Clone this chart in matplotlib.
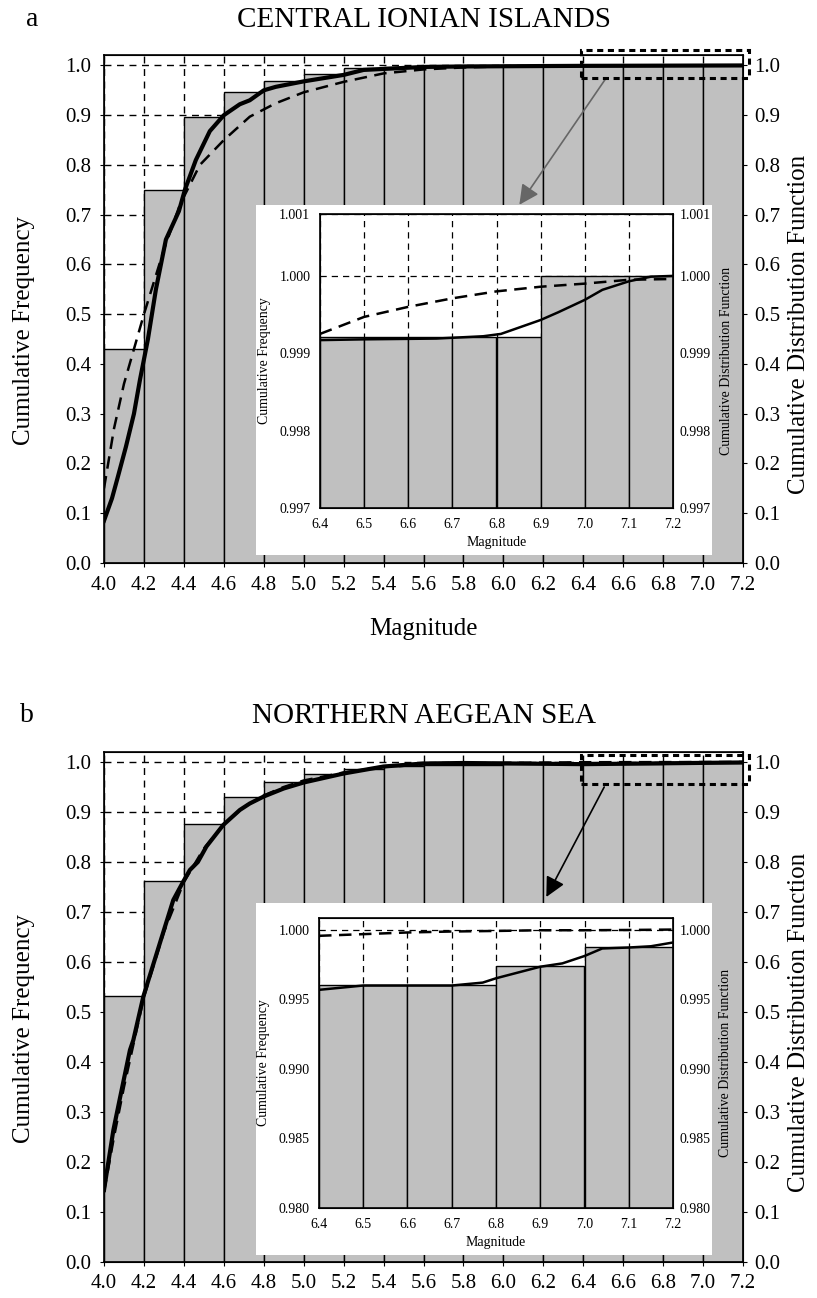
import numpy as np
import matplotlib
matplotlib.use("Agg")
import matplotlib.pyplot as plt
from matplotlib import patches

plt.rcParams['font.family'] = ['Liberation Serif', 'DejaVu Serif']

# ==== Data: bins ====
BIN_EDGES = [4.0, 4.2, 4.4, 4.6, 4.8, 5.0, 5.2, 5.4, 5.6, 5.8, 6.0, 6.2, 6.4, 6.6, 6.8, 7.0]
ZOOM_EDGES = [6.4, 6.5, 6.6, 6.7, 6.8, 6.9, 7.0, 7.1]
MAIN_XTICKS = [4.0, 4.2, 4.4, 4.6, 4.8, 5.0, 5.2, 5.4, 5.6, 5.8, 6.0, 6.2, 6.4, 6.6, 6.8, 7.0, 7.2]
MAIN_YTICKS = [0.0, 0.1, 0.2, 0.3, 0.4, 0.5, 0.6, 0.7, 0.8, 0.9, 1.0]
ZOOM_XTICKS = [6.4, 6.5, 6.6, 6.7, 6.8, 6.9, 7.0, 7.1, 7.2]

# ==== Data: (a) Central Ionian Islands ====
CII_FREQ = [0.43, 0.75, 0.896, 0.947, 0.969, 0.983, 0.994, 0.9976,
            0.998, 0.9985, 0.999, 0.9992, 0.9992, 0.9992, 1.0, 1.0]
CII_OBS_M = [4.00, 4.04, 4.07, 4.11, 4.15, 4.18, 4.22, 4.26, 4.31, 4.375, 4.405, 4.46,
             4.53, 4.60, 4.68, 4.73, 4.80, 4.86, 5.00, 5.20, 5.30, 5.60, 5.80, 6.40, 7.20]
CII_OBS_F = [0.085, 0.13, 0.174, 0.234, 0.30, 0.368, 0.45, 0.55, 0.65, 0.707, 0.75, 0.81,
             0.868, 0.90, 0.922, 0.930, 0.950, 0.957, 0.968, 0.981, 0.991, 0.997, 0.998, 0.9992, 1.0]
CII_CDF_M = [4.00, 4.05, 4.10, 4.15, 4.20, 4.30, 4.38, 4.48, 4.60, 4.73, 4.86, 5.00,
             5.20, 5.40, 5.60, 5.80, 6.00, 6.40, 7.20]
CII_CDF_F = [0.15, 0.27, 0.36, 0.43, 0.50, 0.63, 0.72, 0.80, 0.85, 0.897, 0.924, 0.946,
             0.967, 0.984, 0.992, 0.996, 0.998, 0.9993, 1.0]
CII_ZOOM_FREQ = [0.99921, 0.99921, 0.99921, 0.99921, 0.99921, 1.0, 1.0, 1.0]
CII_ZOOM_OBS_M = [6.40, 6.50, 6.664, 6.77, 6.81, 6.845, 6.90, 6.94, 7.00, 7.04, 7.10, 7.15, 7.20]
CII_ZOOM_OBS_F = [0.99917, 0.99918, 0.99919, 0.99922, 0.99925, 0.99932, 0.99943, 0.99953,
                  0.99969, 0.99982, 0.99993, 0.99999, 1.0]
CII_ZOOM_CDF_M = [6.4, 6.5, 6.6, 6.7, 6.8, 6.9, 7.0, 7.1, 7.2]
CII_ZOOM_CDF_F = [0.99925, 0.99947, 0.9996, 0.99971, 0.9998, 0.99986, 0.9999, 0.99995, 0.99996]

# ==== Data: (b) Northern Aegean Sea ====
NAS_FREQ = [0.532, 0.763, 0.876, 0.931, 0.961, 0.976, 0.987, 0.993,
            0.994, 0.995, 0.9955, 0.996, 0.996, 0.996, 0.9974, 0.9988]
NAS_OBS_M = [4.00, 4.047, 4.08, 4.13, 4.147, 4.197, 4.28, 4.347, 4.397, 4.43, 4.47, 4.513,
             4.597, 4.68, 4.73, 4.80, 4.90, 5.00, 5.20, 5.40, 5.60, 5.80, 6.40, 7.20]
NAS_OBS_F = [0.144, 0.264, 0.328, 0.424, 0.444, 0.531, 0.638, 0.724, 0.761, 0.784, 0.80, 0.831,
             0.874, 0.904, 0.917, 0.931, 0.947, 0.959, 0.977, 0.991, 0.997, 0.998, 0.9957, 0.9991]
NAS_CDF_M = [4.00, 4.05, 4.10, 4.15, 4.20, 4.30, 4.40, 4.50, 4.60, 4.70, 4.80, 4.90,
             5.00, 5.20, 5.40, 5.60, 5.80, 6.00, 6.40, 7.20]
NAS_CDF_F = [0.14, 0.25, 0.35, 0.44, 0.53, 0.66, 0.76, 0.827, 0.875, 0.91, 0.933, 0.95,
             0.963, 0.979, 0.99, 0.995, 0.997, 0.998, 0.99955, 1.0]
NAS_ZOOM_FREQ = [0.99602, 0.99602, 0.99602, 0.99602, 0.9974, 0.9974, 0.99876, 0.99876]
NAS_ZOOM_OBS_M = [6.40, 6.50, 6.70, 6.77, 6.80, 6.90, 6.95, 7.00, 7.04, 7.10, 7.15, 7.20]
NAS_ZOOM_OBS_F = [0.99567, 0.99598, 0.99598, 0.99619, 0.9965, 0.99733, 0.99757, 0.9981,
                  0.99864, 0.99871, 0.9988, 0.99907]
NAS_ZOOM_CDF_M = [6.4, 6.5, 6.6, 6.7, 6.8, 6.9, 7.0, 7.1, 7.2]
NAS_ZOOM_CDF_F = [0.99955, 0.99967, 0.99979, 0.99986, 0.9999, 0.99995, 0.99995, 0.99997, 1.0]

GRAY = '#c0c0c0'
DASH = (0, (5, 3))
W, H = 817, 1298

fig = plt.figure(figsize=(W / 100, H / 100), dpi=100)


def px_rect(x0, y0, x1, y1):
    """pixel box (top-left origin) -> figure fraction rect"""
    return [x0 / W, 1 - y1 / H, (x1 - x0) / W, (y1 - y0) / H]


# ==== Function: draw_main ====
def draw_main(rect, ytop, freq, obs_m, obs_f, cdf_m, cdf_f, box, arrow_from, arrow_to,
              arrow_color, show_xlabel):
    ax = fig.add_axes(rect)
    ax.set_axisbelow(True)
    ax.grid(True, color='black', linestyle=(0, (5, 4)), linewidth=1.0)
    ax.bar(BIN_EDGES, freq, width=0.2, align='edge', color=GRAY,
           edgecolor='black', linewidth=1.0, zorder=2)
    ax.plot(cdf_m, cdf_f, color='black', lw=1.8, linestyle=DASH, zorder=3)
    ax.plot(obs_m, obs_f, color='black', lw=3.0, zorder=4)
    ax.set_xlim(4.0, 7.2)
    ax.set_ylim(0, ytop)
    ax.set_xticks(MAIN_XTICKS)
    ax.set_xticklabels([f"{v:.1f}" for v in MAIN_XTICKS])
    ax.set_yticks(MAIN_YTICKS)
    ax.set_yticklabels([f"{v:.1f}" for v in MAIN_YTICKS])
    ax.tick_params(labelsize=15, length=3, pad=6)
    ax.set_ylabel("Cumulative Frequency", fontsize=18)
    ax.yaxis.set_label_coords(-0.108, 0.457)
    if show_xlabel:
        ax.set_xlabel("Magnitude", fontsize=18, labelpad=17)
    for s in ax.spines.values():
        s.set_linewidth(1.2)

    ax2 = ax.twinx()
    ax2.set_ylim(0, ytop)
    ax2.set_yticks(MAIN_YTICKS)
    ax2.set_yticklabels([f"{v:.1f}" for v in MAIN_YTICKS])
    ax2.tick_params(labelsize=15, length=3, pad=5)
    ax2.set_ylabel("Cumulative Distribution Function", fontsize=18)
    ax2.yaxis.set_label_coords(1.071, 0.469)

    # zoom window + arrow
    x0, y0, x1, y1 = box
    ax.add_patch(patches.Rectangle((x0, y0), x1 - x0, y1 - y0, fill=False,
                                   edgecolor='black', lw=2.2, linestyle=(0, (2, 1.5)),
                                   clip_on=False, zorder=6))
    ax.annotate("", xy=arrow_to, xytext=arrow_from,
                arrowprops=dict(arrowstyle='-|>', color=arrow_color, lw=1.2,
                                mutation_scale=30, shrinkA=0, shrinkB=0))
    return ax


# ==== Function: draw_inset ====
def draw_inset(box_px, ax_px, ylim, yticks, ylabels, freq, obs_m, obs_f, cdf_m, cdf_f):
    fig.add_artist(patches.Rectangle((box_px[0] / W, 1 - box_px[3] / H),
                                     (box_px[2] - box_px[0]) / W, (box_px[3] - box_px[1]) / H,
                                     transform=fig.transFigure, facecolor='white',
                                     edgecolor='none', zorder=5))
    ax = fig.add_axes(px_rect(*ax_px))
    ax.set_zorder(6)
    ax.set_axisbelow(True)
    ax.grid(True, color='black', linestyle=(0, (5, 4)), linewidth=0.9)
    ax.bar(ZOOM_EDGES, freq, width=0.1, align='edge', color=GRAY,
           edgecolor='black', linewidth=1.0, zorder=2)
    ax.plot(cdf_m, cdf_f, color='black', lw=1.8, linestyle=DASH, zorder=3)
    ax.plot(obs_m, obs_f, color='black', lw=1.8, zorder=4)
    ax.set_xlim(6.4, 7.2)
    ax.set_ylim(*ylim)
    ax.set_xticks(ZOOM_XTICKS)
    ax.set_xticklabels([f"{v:.1f}" for v in ZOOM_XTICKS])
    ax.set_yticks(yticks)
    ax.set_yticklabels(ylabels)
    ax.tick_params(labelsize=10, length=0, pad=7)
    ax.set_ylabel("Cumulative Frequency", fontsize=10, labelpad=6)
    ax.set_xlabel("Magnitude", fontsize=10, labelpad=4)
    for s in ax.spines.values():
        s.set_linewidth(1.2)

    ax2 = ax.twinx()
    ax2.set_zorder(7)
    ax2.set_ylim(*ylim)
    ax2.set_yticks(yticks)
    ax2.set_yticklabels(ylabels)
    ax2.tick_params(labelsize=10, length=0, pad=5)
    ax2.set_ylabel("Cumulative Distribution Function", fontsize=10, labelpad=6)
    return ax


# ---- panel a ----
fig.text(32 / W, 1 - 20 / H, "a", fontsize=20, ha='center', va='center')
fig.text(424 / W, 1 - 20 / H, "CENTRAL IONIAN ISLANDS", fontsize=21, ha='center', va='center')
draw_main(px_rect(104, 55, 743, 563), 1.021, CII_FREQ, CII_OBS_M, CII_OBS_F,
          CII_CDF_M, CII_CDF_F, (6.39, 0.975, 7.23, 1.031),
          (6.51, 0.972), (6.08, 0.72), '#666666', True)
draw_inset((256, 205, 712, 555), (320, 214, 673, 508), (0.997, 1.0008),
           [0.997, 0.998, 0.999, 1.000, 1.0008], ['0.997', '0.998', '0.999', '1.000', '1.001'],
           CII_ZOOM_FREQ, CII_ZOOM_OBS_M, CII_ZOOM_OBS_F, CII_ZOOM_CDF_M, CII_ZOOM_CDF_F)

# ---- panel b ----
fig.text(27 / W, 1 - 716 / H, "b", fontsize=20, ha='center', va='center')
fig.text(424 / W, 1 - 716 / H, "NORTHERN AEGEAN SEA", fontsize=21, ha='center', va='center')
draw_main(px_rect(104, 752, 743, 1262), 1.02, NAS_FREQ, NAS_OBS_M, NAS_OBS_F,
          NAS_CDF_M, NAS_CDF_F, (6.39, 0.957, 7.23, 1.014),
          (6.505, 0.95), (6.215, 0.73), 'black', False)
draw_inset((256, 903, 712, 1255), (319, 918, 673, 1208), (0.980, 1.00083),
           [0.980, 0.985, 0.990, 0.995, 1.000], ['0.980', '0.985', '0.990', '0.995', '1.000'],
           NAS_ZOOM_FREQ, NAS_ZOOM_OBS_M, NAS_ZOOM_OBS_F, NAS_ZOOM_CDF_M, NAS_ZOOM_CDF_F)

fig.savefig("out.png", dpi=100)
